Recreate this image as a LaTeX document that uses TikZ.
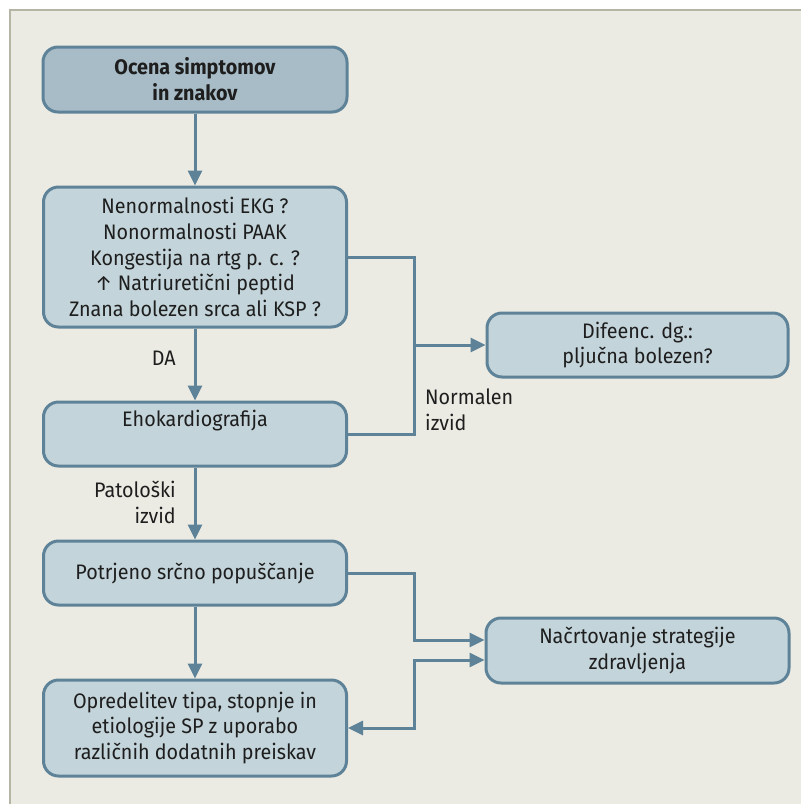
\documentclass[tikz,border=0pt]{standalone}
\usepackage{fontspec}
\setmainfont{Fira Sans}[FakeStretch=0.94]
\usetikzlibrary{arrows.meta}
\definecolor{bgc}{HTML}{EBEBE3}
\definecolor{framec}{HTML}{B5B5A5}
\definecolor{boxfill}{HTML}{C3D4DA}
\definecolor{topfill}{HTML}{A8BCC7}
\definecolor{edgec}{HTML}{5E8399}
\definecolor{txtc}{HTML}{1E1E1E}
\tikzset{
  box/.style={draw=edgec, line width=3pt, fill=boxfill, rounded corners=15pt,
    align=center, text=txtc, inner sep=0pt,
    font=\fontsize{21}{25.7}\selectfont},
  txt/.style={text=txtc, inner sep=0pt, font=\fontsize{21}{25.7}\selectfont},
  conn/.style={draw=edgec, line width=3pt,
    -{Triangle[length=15pt,width=14pt]}},
  link/.style={draw=edgec, line width=3pt},
}
\begin{document}
\begin{tikzpicture}[x=1pt,y=-1pt]
\useasboundingbox (0,0) rectangle (801,804);
\fill[bgc] (10,10) rectangle (801,804);
\draw[framec, line width=2pt] (10,804) -- (10,10) -- (801,10);

\node[box, fill=topfill, minimum width=304pt, minimum height=65pt,
  font=\fontsize{21}{25.7}\selectfont\bfseries] (b1) at (195,79.5)
  {Ocena simptomov\\in znakov};
\node[box, minimum width=303pt, minimum height=140pt] (b2) at (195,257)
  {Nenormalnosti EKG ?\\Nonormalnosti PAAK\\Kongestija na rtg p. c. ?\\↑ Natriuretični peptid\\Znana bolezen srca ali KSP ?};
\node[box, minimum width=303pt, minimum height=64pt] (b3) at (195,434) {};
\node[txt] (b3t) at (195,421) {Ehokardiografija};
\node[box, minimum width=303pt, minimum height=64pt] (b4) at (195,573)
  {Potrjeno srčno popuščanje};
\node[box, minimum width=303pt, minimum height=96pt] (b5) at (195,728)
  {Opredelitev tipa, stopnje in\\etiologije SP z uporabo\\različnih dodatnih preiskav};
\node[box, minimum width=301pt, minimum height=64pt] (d) at (637.5,345)
  {Difeenc. dg.:\\pljučna bolezen?};
\node[box, minimum width=303pt, minimum height=65pt] (n) at (637.5,650.5)
  {Načrtovanje strategije\\zdravljenja};

\node[txt, anchor=east] (la) at (176,358) {DA};
\node[txt, anchor=north west, align=left] (ln) at (425,389) {Normalen\\izvid};
\node[txt, anchor=east, align=right] (lp) at (176,502.5) {Patološki\\izvid};

\coordinate (j1) at (414,257);
\coordinate (j2) at (414,434);
\coordinate (j3) at (414,345);
\coordinate (j4) at (414,573);
\coordinate (j5) at (414,640);
\coordinate (j6) at (414,660);
\coordinate (j7) at (414,728);

\draw[conn] (b1.south) -- (b2.north);
\draw[conn] (b2.south) -- (b3.north);
\draw[conn] (b3.south) -- (b4.north);
\draw[conn] (b4.south) -- (b5.north);
\draw[link] (b2.east) -- (j1) -- (j2) -- (b3.east);
\draw[conn] (j3) -- (d.west);
\draw[conn] (b4.east) -- (j4) -- (j5) -- (n.west |- j5);
\draw[conn, {Triangle[length=15pt,width=14pt]}-{Triangle[length=15pt,width=14pt]}]
  (n.west |- j6) -- (j6) -- (j7) -- (b5.east);
\end{tikzpicture}
\end{document}
